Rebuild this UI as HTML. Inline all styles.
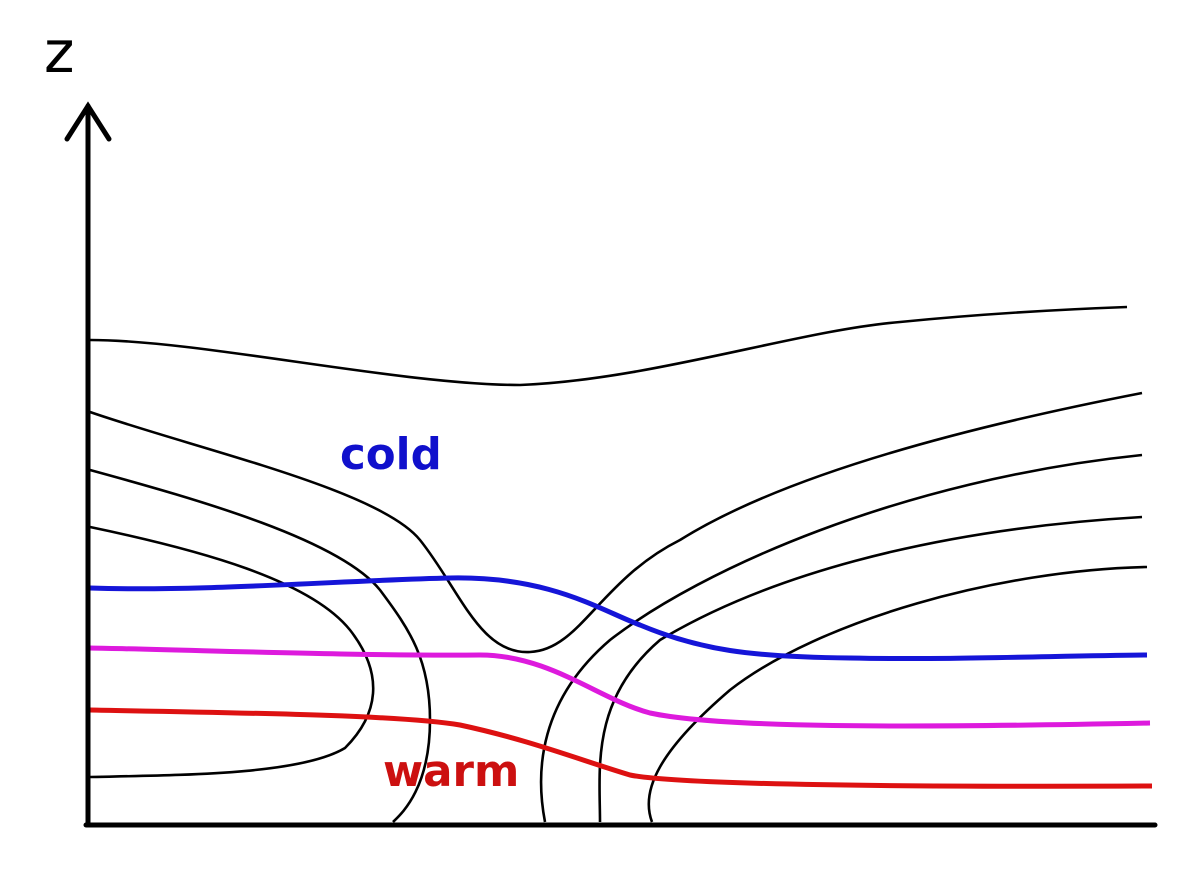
<!DOCTYPE html>
<html><head><style>html,body{margin:0;padding:0;background:#fff}svg{display:block}</style></head>
<body>
<svg width="1200" height="890" viewBox="0 0 1200 890" xmlns="http://www.w3.org/2000/svg">
<rect width="1200" height="890" fill="#fff"/>
<g fill="none" stroke="#000" stroke-width="2.6">
<path d="M90,340 C200,340 400,385 520,385 C650,380 800,330 900,322 C1000,312 1100,308 1127,307"/>
<path d="M90,412 C200,450 380,490 420,540 C460,590 480,655 530,652 C580,650 600,580 680,540 C760,490 900,440 1142,393"/>
<path d="M90,470 C200,500 340,540 380,590 C410,630 430,660 430,720 C430,790 400,815 393,822"/>
<path d="M90,527 C200,550 310,580 350,630 C385,675 378,715 345,748 C300,775 180,775 90,777"/>
<path d="M545,822 C535,770 540,700 610,640 C700,570 900,480 1142,455"/>
<path d="M600,822 C600,770 590,700 660,640 C760,580 920,530 1142,517"/>
<path d="M652,822 C640,790 660,750 730,690 C820,620 1000,570 1147,567"/>
</g>
<g fill="none" stroke-width="5">
<path stroke="#1515d8" d="M90,588 C200,592 350,580 450,578 C550,576 600,610 640,625 C700,650 750,657 850,658 C950,660 1050,656 1147,655"/>
<path stroke="#dd1add" d="M90,648 C200,650 350,656 480,655 C550,655 600,700 650,713 C720,728 900,728 1150,723"/>
<path stroke="#dd1111" d="M90,710 C250,713 400,715 460,725 C530,740 580,760 630,775 C680,785 900,787 1152,786"/>
</g>
<g fill="none" stroke="#000" stroke-width="5" stroke-linecap="round">
<path d="M88,825 L88,106"/>
<path d="M67,139 L88,106 L109,139"/>
<path d="M86,825 L1155,825"/>
</g>
<text x="44" y="72" font-family="DejaVu Sans, Liberation Sans, sans-serif" font-size="58" fill="#000">z</text>
<text x="340" y="469" font-family="DejaVu Sans, Liberation Sans, sans-serif" font-weight="bold" font-size="43.5" fill="#1010cc">cold</text>
<text x="383" y="786" font-family="DejaVu Sans, Liberation Sans, sans-serif" font-weight="bold" font-size="43.5" fill="#cc1010">warm</text>
</svg>
</body></html>
